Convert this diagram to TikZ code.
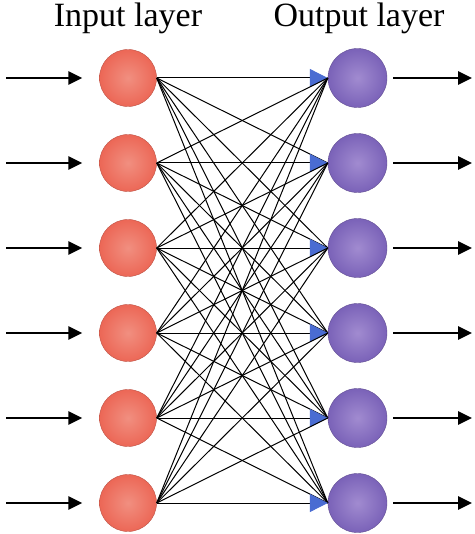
\documentclass[tikz,border=0pt]{standalone}
\usepackage{fontspec}
\setmainfont{Liberation Serif}
\usepackage{tikz}
\usetikzlibrary{arrows.meta,positioning}
\definecolor{inred}{HTML}{EC6756}
\definecolor{inredlight}{HTML}{F18F80}
\definecolor{outviolet}{HTML}{7A62B8}
\definecolor{outvioletlight}{HTML}{A18BD0}
\definecolor{tipblue}{HTML}{4A6CD2}

\begin{document}
\begin{tikzpicture}[>=Stealth, x=1pt, y=-1pt,
  inneuron/.style={circle, minimum size=57pt, inner sep=0pt, draw=inred!80!black, line width=0.4pt,
    inner color=inredlight, outer color=inred},
  outneuron/.style={circle, minimum size=59pt, inner sep=0pt, draw=outviolet!80!black, line width=0.4pt,
    inner color=outvioletlight, outer color=outviolet},
  link/.style={black, line width=1pt},
  feed/.style={-{Triangle[length=14pt, width=13pt]}, line width=2.8pt},
  title/.style={font=\fontsize{34}{38}\selectfont, anchor=base}]
\useasboundingbox (0,0) rectangle (474,534);
\node[title] (intitle) at (128,27) {Input layer};
\node[title] (outtitle) at (359,27) {Output layer};
\foreach \i in {1,...,6} {
  \node[inneuron] (in\i) at (128,{78+85*(\i-1)}) {};
  \node[outneuron] (out\i) at (357.5,{78+85*(\i-1)}) {};
  \coordinate (src\i) at (6,{78+85*(\i-1)});
  \coordinate (dst\i) at (472,{78+85*(\i-1)});
}
\foreach \i in {1,...,6} {
  \foreach \j in {1,...,6} {
    \ifnum\i=\j\relax
      \draw[link, -{Triangle[length=18pt, width=18pt, color=tipblue]}] (in\i.east) -- (out\j.west);
    \else
      \draw[link] (in\i.east) -- (out\j.west);
    \fi
  }
}
\foreach \i in {1,...,6} {
  \draw[feed, shorten >=17pt] (src\i) -- (in\i.west);
  \draw[feed, shorten <=6pt] (out\i.east) -- (dst\i);
}
\end{tikzpicture}
\end{document}
